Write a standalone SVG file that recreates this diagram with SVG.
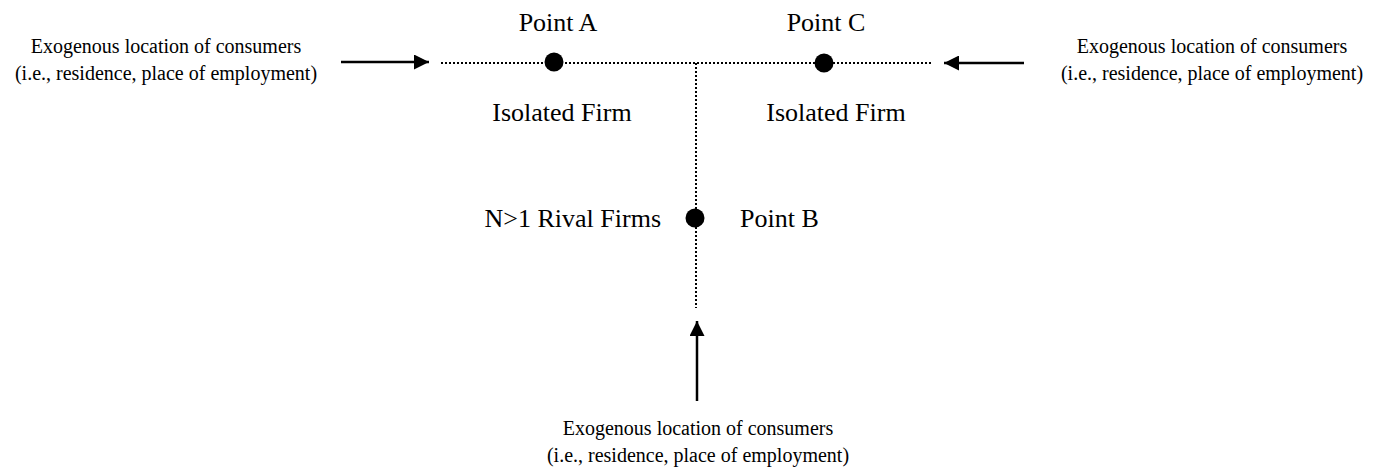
<svg xmlns="http://www.w3.org/2000/svg" width="1392" height="472" viewBox="0 0 1392 472">
<defs>
<style>
text{font-family:'Liberation Serif','DejaVu Serif',serif;fill:#000}
.big{font-size:26px}
.small{font-size:20px}
.dot{stroke:#000;stroke-width:2;stroke-dasharray:2 2;fill:none}
.arr{stroke:#000;stroke-width:2.5;fill:none}
.pt{fill:#000}
</style>
<marker id="ah" viewBox="0 0 10 10" refX="10" refY="5" markerWidth="6.5" markerHeight="6" markerUnits="strokeWidth" orient="auto">
<path d="M0,0 L10,5 L0,10 Z" fill="#000"/>
</marker>
</defs>
<rect width="1392" height="472" fill="#fff"/>
<g id="connectors">
<line class="dot" x1="441" y1="63" x2="932" y2="63"/>
<line class="dot" x1="696" y1="63" x2="696" y2="308"/>
<line class="arr" x1="341" y1="62" x2="429" y2="62" marker-end="url(#ah)"/>
<line class="arr" x1="1024" y1="63" x2="944" y2="63" marker-end="url(#ah)"/>
<line class="arr" x1="697" y1="401" x2="697" y2="321" marker-end="url(#ah)"/>
</g>
<g id="pointA">
<circle class="pt" cx="554" cy="62" r="9.5"/>
<text class="big" x="558" y="31" text-anchor="middle">Point A</text>
<text class="big" x="562" y="121" text-anchor="middle">Isolated Firm</text>
</g>
<g id="pointC">
<circle class="pt" cx="824" cy="63" r="9.5"/>
<text class="big" x="826" y="31" text-anchor="middle">Point C</text>
<text class="big" x="836" y="121" text-anchor="middle">Isolated Firm</text>
</g>
<g id="pointB">
<circle class="pt" cx="695" cy="218" r="9.5"/>
<text class="big" x="661" y="227" text-anchor="end">N&gt;1 Rival Firms</text>
<text class="big" x="740" y="227">Point B</text>
</g>
<g id="consumersLeft">
<text class="small" x="166" y="53" text-anchor="middle">Exogenous location of consumers</text>
<text class="small" x="166" y="80" text-anchor="middle">(i.e., residence, place of employment)</text>
</g>
<g id="consumersRight">
<text class="small" x="1212" y="53" text-anchor="middle">Exogenous location of consumers</text>
<text class="small" x="1212" y="80" text-anchor="middle">(i.e., residence, place of employment)</text>
</g>
<g id="consumersBottom">
<text class="small" x="698" y="435" text-anchor="middle">Exogenous location of consumers</text>
<text class="small" x="698" y="462" text-anchor="middle">(i.e., residence, place of employment)</text>
</g>
</svg>
